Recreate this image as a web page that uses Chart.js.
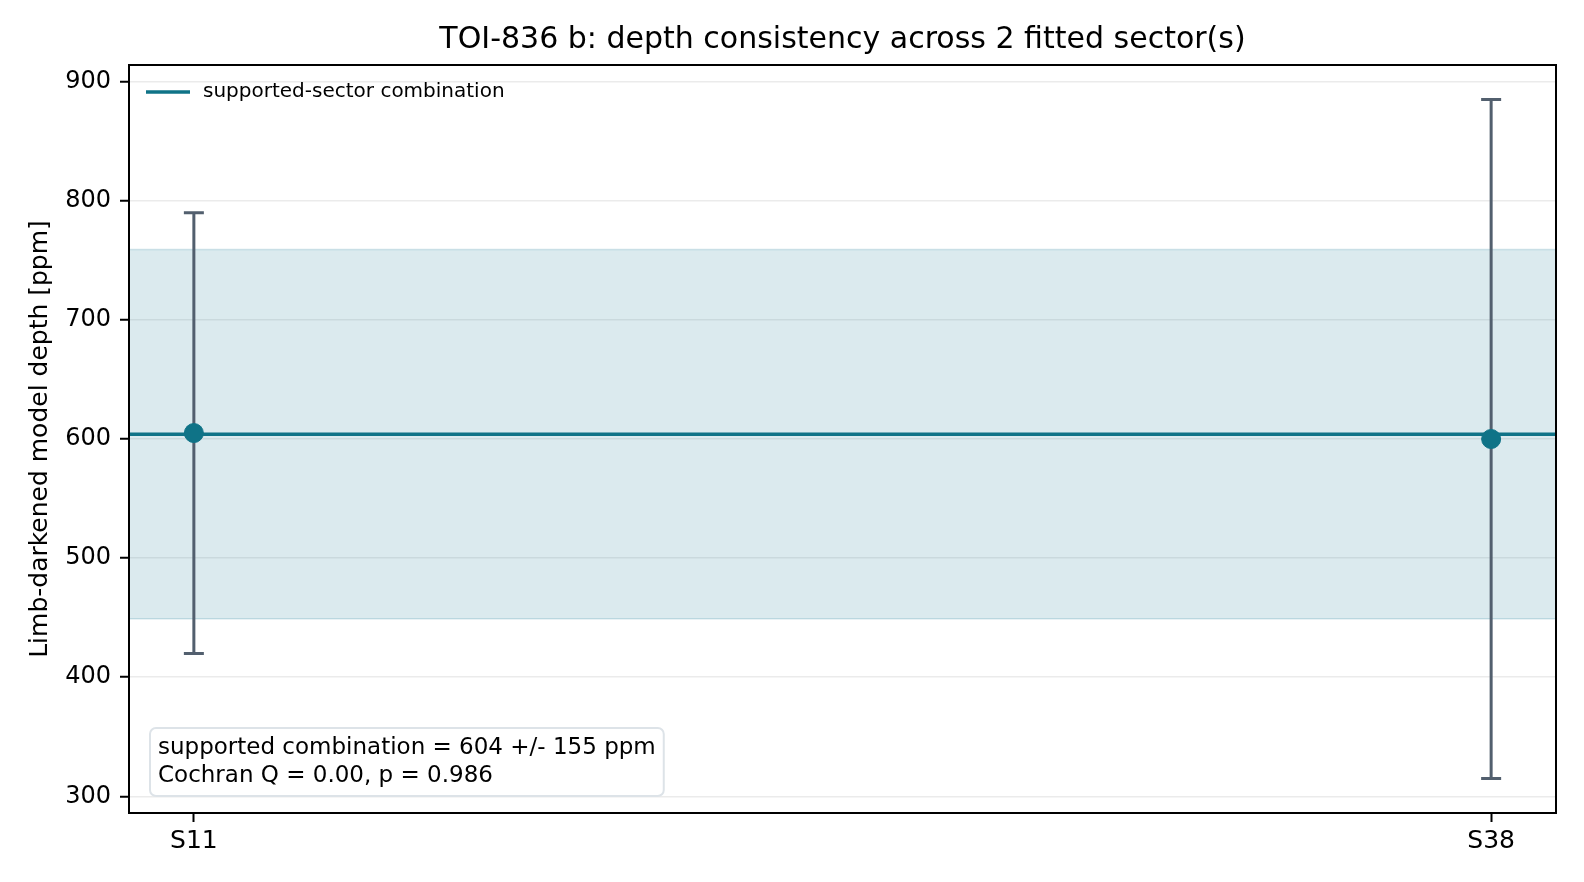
<!DOCTYPE html>
<html>
<head>
<meta charset="utf-8">
<script src="https://cdn.jsdelivr.net/npm/chart.js@4"></script>
<style>
  html, body { margin: 0; padding: 0; background: #fff; }
  #wrap { width: 1584px; height: 882px; }
</style>
</head>
<body>
<div id="wrap"><canvas id="depthChart" width="1584" height="882"></canvas></div>
<script>
// values
const targetName = 'TOI-836 b';
const sectors = ['S11', 'S38'];
const depths = [605, 600];
const depthErrors = [185, 285];
const combinedDepth = 604;
const combinedError = 155;
const cochranQ = '0.00';
const pValue = '0.986';
const yTicks = [300, 400, 500, 600, 700, 800, 900];

const teal = '#0f7387';
const errColor = '#525f6e';
const FONT = "'DejaVu Sans', sans-serif";

const sectorIdx = sectors.map((s, i) => i);
const points = sectors.map((s, i) => ({ x: i, y: depths[i] }));

// band, error bars, frame, title, legend and stats box
const extras = {
    id: 'extras',
    beforeDatasetsDraw(chart) {
        const { ctx, chartArea: a, scales: { x, y } } = chart;
        const yTop = y.getPixelForValue(combinedDepth + combinedError);
        const yBot = y.getPixelForValue(combinedDepth - combinedError);
        ctx.save();
        ctx.fillStyle = 'rgba(14,116,144,0.15)';
        ctx.fillRect(a.left, yTop, a.right - a.left, yBot - yTop);
        ctx.strokeStyle = 'rgba(14,116,144,0.18)';
        ctx.lineWidth = 1.5;
        ctx.beginPath();
        ctx.moveTo(a.left, yTop); ctx.lineTo(a.right, yTop);
        ctx.moveTo(a.left, yBot); ctx.lineTo(a.right, yBot);
        ctx.stroke();

        // error bars
        ctx.strokeStyle = errColor;
        ctx.lineWidth = 3;
        depths.forEach((d, i) => {
            const px = x.getPixelForValue(i);
            const hi = y.getPixelForValue(d + depthErrors[i]);
            const lo = y.getPixelForValue(d - depthErrors[i]);
            ctx.beginPath();
            ctx.moveTo(px, hi); ctx.lineTo(px, lo);
            ctx.moveTo(px - 10, hi); ctx.lineTo(px + 10, hi);
            ctx.moveTo(px - 10, lo); ctx.lineTo(px + 10, lo);
            ctx.stroke();
        });
        ctx.restore();
    },
    afterDraw(chart) {
        const { ctx, chartArea: a } = chart;
        ctx.save();
        ctx.strokeStyle = '#000';
        ctx.lineWidth = 2;
        ctx.strokeRect(a.left, a.top, a.right - a.left, a.bottom - a.top);

        // title, centred over the axes
        ctx.fillStyle = '#000';
        ctx.font = '30px ' + FONT;
        ctx.textAlign = 'center';
        ctx.textBaseline = 'middle';
        ctx.fillText(`${targetName}: depth consistency across ${sectors.length} fitted sector(s)`,
            (a.left + a.right) / 2, 40);
        ctx.textAlign = 'left';

        // legend (inside, upper left, no frame)
        const ly = a.top + 27;
        ctx.strokeStyle = teal;
        ctx.lineWidth = 3.5;
        ctx.beginPath();
        ctx.moveTo(a.left + 17, ly); ctx.lineTo(a.left + 61, ly);
        ctx.stroke();
        ctx.font = '20px ' + FONT;
        ctx.fillText('supported-sector combination', a.left + 74, ly);

        // stats box
        const lines = [
            `supported combination = ${combinedDepth} +/- ${combinedError} ppm`,
            `Cochran Q = ${cochranQ}, p = ${pValue}`
        ];
        ctx.font = '23px ' + FONT;
        const w = Math.max(...lines.map(t => ctx.measureText(t).width)) + 16;
        const bx = a.left + 21, by = a.bottom - 85, bh = 68;
        ctx.beginPath();
        ctx.roundRect(bx, by, w, bh, 6);
        ctx.fillStyle = 'rgba(255,255,255,0.9)';
        ctx.fill();
        ctx.strokeStyle = '#dde3e8';
        ctx.lineWidth = 2;
        ctx.stroke();
        ctx.fillStyle = '#000';
        ctx.fillText(lines[0], bx + 8, by + 20);
        ctx.fillText(lines[1], bx + 8, by + 48);
        ctx.restore();
    }
};

new Chart(document.getElementById('depthChart'), {
    type: 'scatter',
    data: {
        datasets: [
            {
                type: 'line',
                label: 'supported-sector combination',
                data: [{ x: -0.05, y: combinedDepth }, { x: sectors.length - 1 + 0.05, y: combinedDepth }],
                borderColor: teal,
                borderWidth: 3.7,
                pointRadius: 0,
                order: 2
            },
            {
                label: 'sectors',
                data: points,
                backgroundColor: teal,
                borderColor: teal,
                pointRadius: 9.5,
                pointHoverRadius: 9.5,
                order: 1
            }
        ]
    },
    options: {
        responsive: false,
        animation: false,
        layout: { padding: { left: 0, right: 28, top: 65, bottom: 0 } },
        plugins: {
            legend: { display: false },
            tooltip: { enabled: false },
            title: { display: false }
        },
        scales: {
            x: {
                type: 'linear',
                min: -0.05,
                max: sectors.length - 1 + 0.05,
                afterBuildTicks: s => { s.ticks = sectorIdx.map(v => ({ value: v })); },
                afterFit: s => { s.height = 69; },
                border: { display: false },
                grid: { drawOnChartArea: false, color: '#000', tickColor: '#000', tickLength: 9, tickWidth: 2 },
                ticks: {
                    color: '#000',
                    padding: 4,
                    font: { family: FONT, size: 25 },
                    callback: v => sectors[v] ?? ''
                }
            },
            y: {
                min: 286,
                max: 914,
                afterBuildTicks: s => { s.ticks = yTicks.map(v => ({ value: v })); },
                afterFit: s => { s.width = 129; },
                border: { display: false },
                grid: { color: 'rgba(0,0,0,0.08)', lineWidth: 1.5, tickColor: '#000', tickLength: 9, tickWidth: 2 },
                ticks: {
                    color: '#000',
                    padding: 9,
                    font: { family: FONT, size: 24 }
                },
                title: {
                    display: true,
                    text: 'Limb-darkened model depth [ppm]',
                    color: '#000',
                    font: { family: FONT, size: 25 },
                    padding: { top: 25, bottom: 0 }
                }
            }
        }
    },
    plugins: [extras]
});
</script>
</body>
</html>
